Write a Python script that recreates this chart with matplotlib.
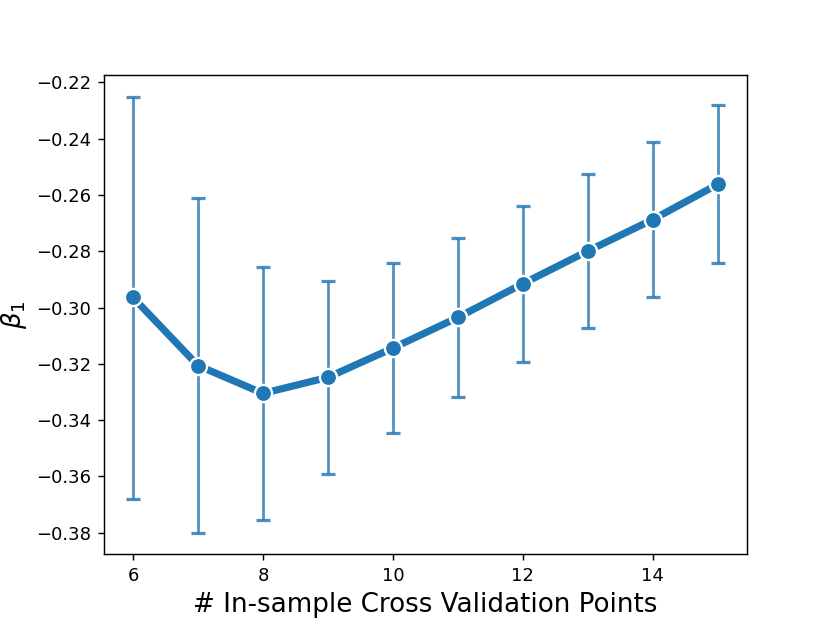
import matplotlib
matplotlib.use("Agg")
import matplotlib.pyplot as plt
import numpy as np

n_points = [6, 7, 8, 9, 10, 11, 12, 13, 14, 15]
beta1 = [-0.2964, -0.3206, -0.3305, -0.3248, -0.3144, -0.3035, -0.2915, -0.2799, -0.2687, -0.2562]
err_upper = [-0.2250, -0.2611, -0.2855, -0.2905, -0.2841, -0.2752, -0.2639, -0.2526, -0.2412, -0.2279]
err_lower = [-0.3679, -0.3800, -0.3755, -0.3591, -0.3446, -0.3318, -0.3192, -0.3073, -0.2962, -0.2842]

b = np.array(beta1)
yerr = [b - np.array(err_lower), np.array(err_upper) - b]

fig, ax = plt.subplots(figsize=(830 / 130, 623 / 130), dpi=130)
ax.errorbar(n_points, beta1, yerr=yerr, fmt="none", ecolor="#2f7bb6", alpha=0.85,
            elinewidth=1.5, capsize=4, capthick=1.8, zorder=1)
ax.plot(n_points, beta1, color="#1f77b4", linewidth=4, marker="o",
        markersize=9.5, markeredgecolor="white", markeredgewidth=1.3, zorder=2)
ax.set_xlabel("# In-sample Cross Validation Points", fontsize=14.5)
ax.set_ylabel(r"$\beta_1$", fontsize=14.5)
fig.savefig("out.png", dpi=130)
